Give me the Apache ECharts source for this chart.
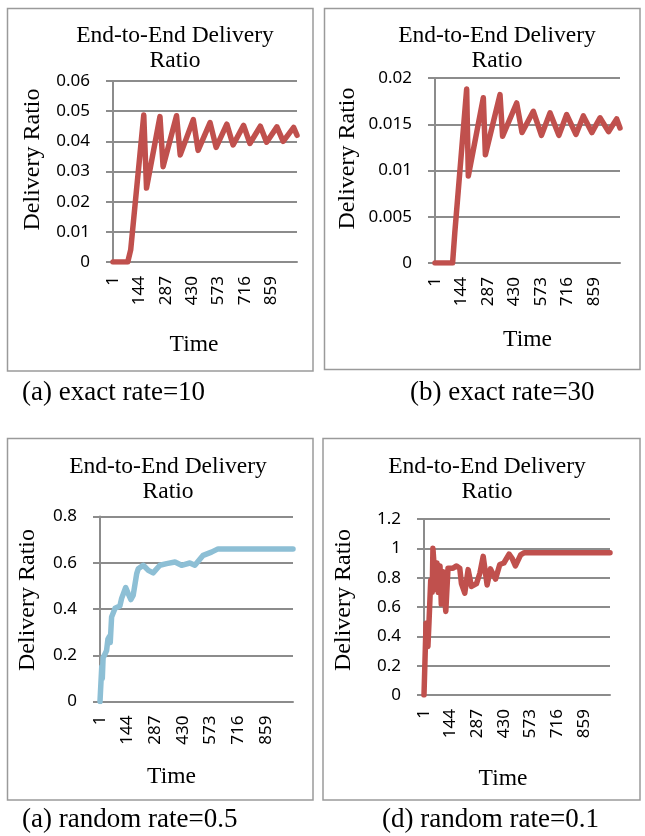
<!DOCTYPE html>
<html>
<head>
<meta charset="utf-8">
<script src="https://cdn.jsdelivr.net/npm/echarts@6/dist/echarts.min.js"></script>
<style>html,body{margin:0;padding:0;background:#fff}#c{width:645px;height:836px}</style>
</head>
<body>
<div id="c"></div>
<script>
// ---- data ----
const N = 1000;
const timeLabels = Array.from({length: N}, (_, i) => String(i + 1));
const chartTitle = 'End-to-End Delivery\nRatio';
const yName = 'Delivery Ratio';
const xName = 'Time';
const captions = ['(a) exact rate=10', '(b) exact rate=30', '(a) random rate=0.5', '(d) random rate=0.1'];

const timeA = [1, 81, 97, 168, 183, 256, 273, 346, 366, 437, 463, 528, 561, 619, 653, 710, 744, 801, 835, 891, 925, 982, 1000];
const ratioA = [0, 0, 0.004, 0.0487, 0.0245, 0.0482, 0.0316, 0.0485, 0.0355, 0.0472, 0.037, 0.0462, 0.038, 0.0457, 0.0388, 0.0453, 0.0393, 0.045, 0.0397, 0.0448, 0.04, 0.0446, 0.042];

const timeB = [1, 96, 108, 172, 181, 262, 273, 352, 366, 442, 471, 532, 576, 622, 670, 712, 762, 802, 848, 892, 938, 982, 1000];
const ratioB = [0, 0, 0.0033, 0.0188, 0.0094, 0.01786, 0.0117, 0.0182, 0.0137, 0.0173, 0.0141, 0.0164, 0.0138, 0.01623, 0.0138, 0.01605, 0.0139, 0.0159, 0.0141, 0.0157, 0.0142, 0.01558, 0.0146];

const timeC = [1, 9, 10, 13, 17, 24, 35, 42, 49, 54, 61, 79, 104, 113, 134, 147, 161, 173, 191, 199, 225, 251, 276, 311, 346, 389, 423, 466, 492, 535, 578, 612, 1000];
const ratioC = [0, 0, 0.15, 0.1, 0.19, 0.2, 0.22, 0.27, 0.28, 0.255, 0.365, 0.403, 0.413, 0.446, 0.493, 0.467, 0.441, 0.46, 0.553, 0.574, 0.589, 0.567, 0.556, 0.589, 0.596, 0.603, 0.589, 0.599, 0.589, 0.632, 0.646, 0.66, 0.66];

const timeD = [1, 11, 12, 17, 22, 28, 33, 37, 45, 49, 58, 64, 71, 78, 87, 94, 104, 110, 118, 130, 157, 176, 193, 202, 220, 238, 256, 283, 301, 319, 340, 358, 385, 408, 430, 458, 475, 492, 520, 540, 1000];
const ratioD = [0, 0, 0.49, 0.5, 0.33, 0.5, 0.5, 0.78, 0.7, 1.0, 1.0, 0.72, 0.9, 0.7, 0.88, 0.62, 0.84, 0.7, 0.57, 0.865, 0.865, 0.88, 0.865, 0.76, 0.695, 0.855, 0.74, 0.76, 0.83, 0.945, 0.75, 0.86, 0.79, 0.89, 0.9, 0.96, 0.93, 0.88, 0.955, 0.97, 0.97];

const yMax = [0.06, 0.02, 0.8, 1.2];
const yStep = [0.01, 0.005, 0.2, 0.2];

// ---- layout / style ----
const RED = '#C0504D', BLUE = '#8DBFD5', GRID = '#8c8c8c';
const SERIF = '"Liberation Serif", "Times New Roman", serif';
const SANS = '"Noto Sans", "Liberation Sans", sans-serif';

const panels = [
  {grid: {left: 113, top: 81, width: 184, height: 181}, box: [7.5, 8.5, 305.5, 362.5], title: [175, 48.5], cap: [22, 393], yGap: 68, yPad: 24, xGap: 71, xPad: 22, color: RED, t: timeA, v: ratioA},
  {grid: {left: 435, top: 78, width: 185, height: 185}, box: [324.5, 8.5, 315.5, 361], title: [497, 48.5], cap: [410, 393], yGap: 75, yPad: 24, xGap: 65, xPad: 0, color: RED, t: timeB, v: ratioB},
  {grid: {left: 100, top: 516.5, width: 193, height: 185}, box: [7.5, 438.5, 305.5, 361.5], title: [168, 479], cap: [22, 820], yGap: 60, yPad: 18, xGap: 63, xPad: 50, color: BLUE, t: timeC, v: ratioC},
  {grid: {left: 424, top: 519, width: 186, height: 176}, box: [323, 438.5, 317, 361.5], title: [487, 479], cap: [382, 820], yGap: 68, yPad: 14, xGap: 72, xPad: 28, color: RED, t: timeD, v: ratioD}
];

const option = {
  animation: false,
  backgroundColor: '#fff',
  grid: panels.map(p => p.grid),
  xAxis: panels.map((p, i) => ({
    type: 'category', gridIndex: i, data: timeLabels, boundaryGap: false,
    name: xName, nameLocation: 'middle', nameGap: p.xGap,
    nameTextStyle: {fontFamily: SERIF, fontSize: 23.5, color: '#000', padding: [0, p.xPad, 0, 0]},
    axisLine: {show: true, lineStyle: {color: GRID, width: 2}},
    axisTick: {show: false},
    axisLabel: {interval: 142, rotate: 90, margin: 14, fontFamily: SANS, fontSize: 17, color: '#000'},
    splitLine: {show: false}
  })),
  yAxis: panels.map((p, i) => ({
    type: 'value', gridIndex: i, min: 0, max: yMax[i], interval: yStep[i],
    name: yName, nameLocation: 'middle', nameRotate: 90, nameGap: p.yGap,
    nameTextStyle: {fontFamily: SERIF, fontSize: 24, color: '#000', padding: [0, 0, 0, p.yPad]},
    axisLine: {show: true, lineStyle: {color: GRID, width: 2}},
    axisTick: {show: true, length: 7, lineStyle: {color: GRID, width: 2}},
    axisLabel: {margin: 23, fontFamily: SANS, fontSize: 17, color: '#000'},
    splitLine: {show: true, lineStyle: {color: GRID, width: 2}}
  })),
  series: panels.map((p, i) => ({
    type: 'line', xAxisIndex: i, yAxisIndex: i,
    data: p.t.map((t, k) => [t - 1, p.v[k]]),
    showSymbol: false, symbol: 'none',
    lineStyle: {color: p.color, width: 5.5, join: 'round', cap: 'round'},
    itemStyle: {color: p.color}
  })),
  graphic: [].concat(
    panels.map(p => ({type: 'rect', silent: true, z: -1,
      shape: {x: p.box[0], y: p.box[1], width: p.box[2], height: p.box[3]},
      style: {fill: 'none', stroke: '#9a9a9a', lineWidth: 1.5}})),
    panels.map(p => ({type: 'text', silent: true, x: p.title[0], y: p.title[1],
      style: {text: chartTitle, fill: '#000', font: '23.5px ' + SERIF, lineHeight: 25, align: 'center', verticalAlign: 'middle'}})),
    panels.map((p, i) => ({type: 'text', silent: true, x: p.cap[0], y: p.cap[1],
      style: {text: captions[i], fill: '#000', font: '27px ' + SERIF, align: 'left', verticalAlign: 'middle'}}))
  )
};

const chart = echarts.init(document.getElementById('c'), null, {renderer: 'canvas'});
chart.setOption(option);
</script>
</body>
</html>
